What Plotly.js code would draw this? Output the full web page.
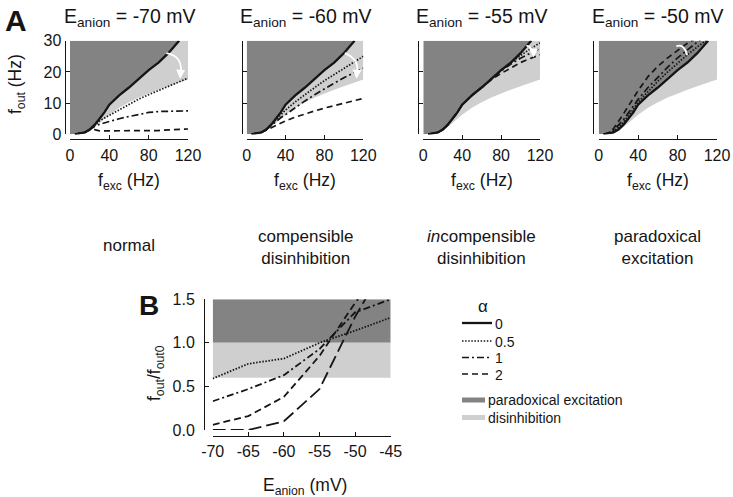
<!DOCTYPE html>
<html><head><meta charset="utf-8">
<script src="https://cdn.plot.ly/plotly-3.0.1.min.js"></script>
<style>html,body{margin:0;padding:0;background:#fff}</style>
</head><body><div id="chart" style="width:733px;height:497px"></div>
<script>
// ---------- DATA ----------
const fexcTicks = [0, 40, 80, 120];
const foutTicks = [0, 10, 20, 30];
const fexcSolid = [5,10,15,20,25,30,35,40,50,60,70,80,90,100,111];
const foutAlpha0 = [0,0.2,0.6,1.5,3,5,7,9.5,12.5,15,17.8,20.6,23,26,30];
const fexcBound = [0,10,20,30,40,50,60,70,80,90,100,110,120];
const foutDisinhibLower = [0,0.1,1.0,3.8,6.3,8.5,10.3,11.8,13.1,14.3,15.4,16.5,17.6];
const fexc = [5,10,15,20,25,30,35,40,50,60,70,80,90,100,110,120];

const alpha05_m70 = [0,0.2,0.6,1.5,2.9,4.3,5.2,6.1,7.9,9.7,11.3,12.7,14,15.2,16.6,18];
const alpha1_m70  = [0,0.2,0.6,1.5,2.5,3.2,3.7,4.2,5.0,5.7,6.4,7.0,7.3,7.4,7.4,7.5];
const alpha2_m70  = [0,0.2,0.6,1.4,1.5,1.1,1.1,1.1,1.2,1.2,1.1,1.0,1.2,1.4,1.6,1.7];

const alpha05_m60 = [0,0.2,0.6,1.5,3,4.7,6.3,7.8,10.4,12.8,15,17.2,19.2,21.1,23,25];
const alpha1_m60  = [0,0.2,0.6,1.5,2.8,4.2,5.3,6.3,8.6,10.7,12.7,14.6,16.4,18.1,19.7,21.2];
const alpha2_m60  = [0,0.2,0.6,1.3,2.1,2.8,3.6,4.3,5.5,6.6,7.5,8.4,9.2,9.9,10.6,11.5];

const alpha05_m55 = [0,0.2,0.6,1.5,3,5,7,9.5,12.5,15,17.8,20.5,23,25.3,27.4,29.3];
const alpha1_m55  = [0,0.2,0.6,1.5,3,5,7,9.5,12.5,15,17.7,20.3,22.5,24.4,26,27.5];
const alpha2_m55  = [0,0.2,0.6,1.5,3,5,7,9.5,12.5,15,17.5,19.5,21.3,23,24.3,25.5];

const alpha05_m50 = [0,0.3,1,2.2,3.8,5.8,8,10.3,13.8,17,20,22.8,25.5,28,30.4,32.5];
const alpha1_m50  = [0,0.4,1.3,2.8,4.6,6.8,9,11.2,15,18.3,21.5,24.5,27.2,29.6,32,34];
const alpha2_m50  = [0,0.5,1.8,4,6.5,9,11.5,14,18.5,21.8,24.5,27,29.2,31,33,35];

const panelTitles = ['E<sub>anion</sub> = -70 mV','E<sub>anion</sub> = -60 mV','E<sub>anion</sub> = -55 mV','E<sub>anion</sub> = -50 mV'];
const panelCaptions = ['normal','compensible<br>disinhibition','<i>in</i>compensible<br>disinhibition','paradoxical<br>excitation'];
const alphaNames = ['0','0.5','1','2'];
const shadeNames = ['paradoxical excitation','disinhibition'];

const eAnion = [-70,-65,-60,-55,-50,-45];
const eAnionTicks = [-70,-65,-60,-55,-50,-45];
const eAnionTickText = ['-70','-65','-60','-55','-50','-45'];
const ratioTicks = [0,0.5,1,1.5];
const ratioTickText = ['0.0','0.5','1.0','1.5'];
const ratioAlpha05 = [0.59,0.76,0.82,1.0,1.14,1.29];
const ratioAlpha1  = [0.33,0.47,0.63,0.93,1.35,1.5];
const ratioAlpha2  = [0.06,0.16,0.38,0.85,1.46,2.0];
const ratioLongDash = [0,0,0.1,0.47,1.3,2.0];
const disinhibBand = [0.6, 1.0];
const paradoxBand = [1.0, 1.5];

// ---------- STYLE / GEOMETRY ----------
const W = 733, H = 497;
const px = v => v / W, py = v => 1 - v / H;
const DARK = '#838383', LIGHT = '#cfcfcf', INK = '#151515';
const FONT = 'Liberation Sans, Arial, Helvetica, sans-serif';
const panelBox = [
  {x0:70, x1:188, yax:64.5},
  {x0:246.7, x1:363.3, yax:241.5},
  {x0:423.3, x1:540, yax:418},
  {x0:598.7, x1:717, yax:593}
];
const aTop = 40.7, aBot = 134.3, aXline = 139;
const series = [
  [alpha05_m70, alpha1_m70, alpha2_m70],
  [alpha05_m60, alpha1_m60, alpha2_m60],
  [alpha05_m55, alpha1_m55, alpha2_m55],
  [alpha05_m50, alpha1_m50, alpha2_m50]
];
const styles = [
  {dash:'solid', width:2.3},
  {dash:'1.5px,1.6px', width:1.7},
  {dash:'7px,3px,2px,3px', width:1.7},
  {dash:'6px,4px', width:1.7}
];
const XMAX = 120, YMAX = 30;

const traces = [];
const layout = {
  width: W, height: H, margin:{l:0,r:0,t:0,b:0},
  paper_bgcolor:'#fff', plot_bgcolor:'#fff',
  font:{family:FONT, color:INK, size:16},
  showlegend:false,
  shapes:[], annotations:[]
};
function label(x, y, text, size, opts) {
  layout.annotations.push(Object.assign({xref:'paper', yref:'paper', x:px(x), y:py(y), text:text,
    showarrow:false, font:{size:size}, xanchor:'center', yanchor:'middle'}, opts || {}));
}

panelBox.forEach((b, i) => {
  const sfx = i ? String(i + 1) : '';
  const xa = 'x' + sfx, ya = 'y' + sfx;
  const revX = fexcSolid.slice().reverse(), revY = foutAlpha0.slice().reverse();
  traces.push({x: fexcBound.concat([XMAX], revX), y: foutDisinhibLower.concat([YMAX], revY),
    xaxis:xa, yaxis:ya, mode:'lines', line:{width:0}, fill:'toself', fillcolor:LIGHT, hoverinfo:'skip'});
  traces.push({x: [0].concat(fexcSolid, [0]), y: [0].concat(foutAlpha0, [YMAX]),
    xaxis:xa, yaxis:ya, mode:'lines', line:{width:0}, fill:'toself', fillcolor:DARK, hoverinfo:'skip'});
  for (let k = 2; k >= 0; k--) {
    traces.push({x: fexc, y: series[i][k], xaxis:xa, yaxis:ya, mode:'lines',
      line:{color:INK, width:styles[k+1].width, dash:styles[k+1].dash}, name:'α = ' + alphaNames[k+1]});
  }
  traces.push({x: fexcSolid, y: foutAlpha0, xaxis:xa, yaxis:ya, mode:'lines',
    line:{color:INK, width:styles[0].width}, name:'α = ' + alphaNames[0]});

  layout['xaxis' + sfx] = {
    domain:[px(b.x0), px(b.x1)], range:[0, XMAX], anchor:'free', position: py(aXline),
    tickvals: fexcTicks, ticks:'inside', ticklen:4, tickcolor:INK, showline:true,
    linecolor:INK, linewidth:1, showgrid:false, zeroline:false, tickfont:{size:16},
    ticklabelstandoff:2
  };
  layout['yaxis' + sfx] = {
    domain:[py(aBot), py(aTop)], range:[0, YMAX], anchor:'free', position: px(b.yax),
    tickvals: foutTicks, showticklabels: i === 0, ticks:'inside', ticklen:4, tickcolor:INK,
    showline:true, linecolor:INK, linewidth:1, showgrid:false, zeroline:false, tickfont:{size:16}
  };
  const cx = (b.x0 + b.x1) / 2;
  label(cx, 17, panelTitles[i], 19.5);
  label(cx, 182, 'f<sub>exc</sub> (Hz)', 17.5);
  label(cx, i ? 247 : 245, panelCaptions[i], 17);
});
label(16, 84, 'f<sub>out</sub> (Hz)', 17.5, {textangle:-90});

// white curved arrows
const arrows = [
  {p:'M 98,26 Q 116,25 112.3,18.8', hx:112, hy:17.8, tx:112.4, ty:20},
  {p:'M 101,26 Q 117,24 113.3,18.8', hx:113, hy:17.8, tx:113.4, ty:20},
  {p:'M 106,28.4 Q 112.5,28.2 113.2,25.4', hx:113.2, hy:24.6, tx:113.3, ty:26},
  {p:'M 89.6,25.4 Q 86.5,29.2 78.8,28.2', hx:77, hy:27.8, tx:80, ty:28.4}
];
arrows.forEach((a, i) => {
  const sfx = i ? String(i + 1) : '';
  layout.shapes.push({type:'path', path:a.p, xref:'x' + sfx, yref:'y' + sfx,
    line:{color:'#fff', width:1.8}, layer:'above'});
  layout.annotations.push({xref:'x' + sfx, yref:'y' + sfx, axref:'x' + sfx, ayref:'y' + sfx,
    x:a.hx, y:a.hy, ax:a.tx, ay:a.ty, showarrow:true, arrowhead:2, arrowsize:1,
    arrowwidth:1.8, arrowcolor:'#fff', text:''});
});

// ---------- PANEL B ----------
const bBox = {x0:212.7, x1:390.7, top:299.3, bot:430, yax:204, xax:436};
layout.shapes.push({type:'rect', xref:'x5', yref:'y5', x0:eAnion[0], x1:eAnion[eAnion.length-1],
  y0:paradoxBand[0], y1:paradoxBand[1], fillcolor:DARK, line:{width:0}, layer:'below'});
layout.shapes.push({type:'rect', xref:'x5', yref:'y5', x0:eAnion[0], x1:eAnion[eAnion.length-1],
  y0:disinhibBand[0], y1:disinhibBand[1], fillcolor:LIGHT, line:{width:0}, layer:'below'});
const bSeries = [
  {y:ratioAlpha05, dash:'1.5px,1.6px'},
  {y:ratioAlpha1, dash:'7px,3px,2px,3px'},
  {y:ratioAlpha2, dash:'7px,4px'},
  {y:ratioLongDash, dash:'13px,5px'}
];
bSeries.forEach(s => traces.push({x:eAnion, y:s.y, xaxis:'x5', yaxis:'y5', mode:'lines',
  line:{color:INK, width:1.8, dash:s.dash}, hoverinfo:'skip'}));

layout.xaxis5 = {domain:[px(bBox.x0), px(bBox.x1)], range:[eAnion[0], eAnion[eAnion.length-1]],
  anchor:'free', position:py(bBox.xax), tickvals:eAnionTicks, ticktext:eAnionTickText,
  ticks:'inside', ticklen:4, tickcolor:INK, showline:true, linecolor:INK, linewidth:1,
  showgrid:false, zeroline:false, tickfont:{size:16}, ticklabelstandoff:1};
layout.yaxis5 = {domain:[py(bBox.bot), py(bBox.top)], range:[0,1.5], anchor:'free',
  position:px(bBox.yax), tickvals:ratioTicks, ticktext:ratioTickText, ticks:'inside', ticklen:4,
  tickcolor:INK, showline:true, linecolor:INK, linewidth:1, showgrid:false, zeroline:false,
  tickfont:{size:16}, ticklabelstandoff:6};
label((bBox.x0 + bBox.x1) / 2 + 3, 486, 'E<sub>anion</sub> (mV)', 17.5);
label(155, 373, 'f<sub>out</sub>/f<sub>out0</sub>', 17.5, {textangle:-90});

// ---------- LEGEND (drawn as key) ----------
const keyX0 = 462, keyX1 = 492, keyRows = [323, 341, 357.5, 374], shadeRows = [400, 417.5];
label(483, 306, 'α', 17);
alphaNames.forEach((n, k) => {
  layout.shapes.push({type:'line', xref:'paper', yref:'paper', x0:px(keyX0), x1:px(keyX1),
    y0:py(keyRows[k]), y1:py(keyRows[k]), line:{color:INK, width:styles[k].width, dash:styles[k].dash}});
  label(keyX1 + 1, keyRows[k] + 0.5, n, 14, {xanchor:'left'});
});
[DARK, LIGHT].forEach((c, k) => {
  layout.shapes.push({type:'line', xref:'paper', yref:'paper', x0:px(keyX0), x1:px(485),
    y0:py(shadeRows[k]), y1:py(shadeRows[k]), line:{color:c, width:5}});
  label(486, shadeRows[k], shadeNames[k], 14, {xanchor:'left'});
});

label(16, 20, '<b>A</b>', 30);
label(148.5, 305, '<b>B</b>', 28);

Plotly.newPlot('chart', traces, layout, {staticPlot:true, displayModeBar:false});
</script></body></html>
